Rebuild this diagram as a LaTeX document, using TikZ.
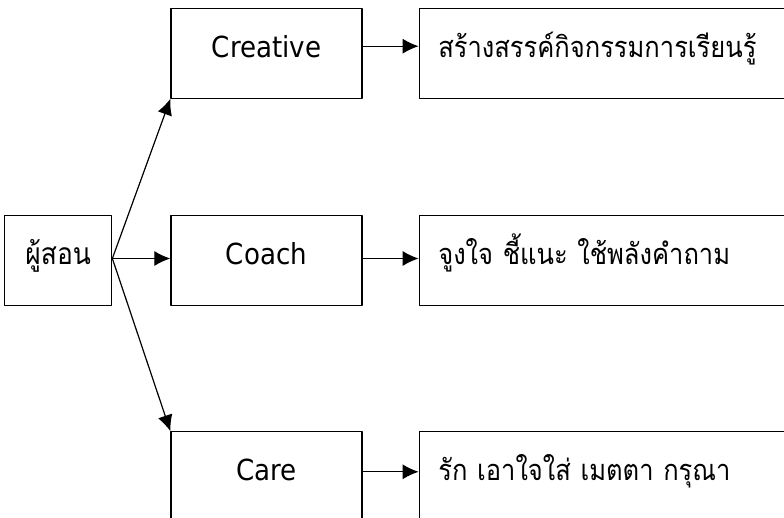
\documentclass[tikz,border=0pt]{standalone}
\usepackage{fontspec}
\setmainfont{DejaVu Sans Condensed}
\newfontfamily\thaifont[Script=Thai,FakeStretch=0.88]{Loma}
\usetikzlibrary{positioning,arrows.meta}

\begin{document}
\begin{tikzpicture}[x=1pt,y=1pt,line join=round,>={Latex[length=16pt,width=15pt]},
  font=\fontsize{29}{33}\selectfont,
  box/.style={draw,line width=1.3pt,inner sep=0pt,text height=20pt,text depth=12pt,minimum height=90pt},
  mid/.style={box,minimum width=191pt},
  note/.style={box,text width=344pt,align=left,inner xsep=19pt,font=\thaifont\fontsize{29}{33}\selectfont},
  link/.style={->,line width=1.2pt}]
 \useasboundingbox (0,0) rectangle (784,517);
 \node[mid] (coach) at (266.5,256.5) {Coach};
 \node[mid,above=116pt of coach] (creative) {Creative};
 \node[mid,below=125pt of coach] (care) {Care};
 \node[box,minimum width=107pt,left=58pt of coach,font=\thaifont\fontsize{30}{34}\selectfont] (teacher) {ผู้สอน};
 \node[note,right=56pt of creative] (createNote) {สร้างสรรค์กิจกรรมการเรียนรู้};
 \node[note,right=56pt of coach] (coachNote) {จูงใจ ชี้แนะ ใช้พลังคำถาม};
 \node[note,right=56pt of care] (careNote) {รัก เอาใจใส่ เมตตา กรุณา};
 \draw[link] ([yshift=2pt]teacher.east) -- (creative.south west);
 \draw[link] ([yshift=2pt]teacher.east) -- ([yshift=2pt]coach.west);
 \draw[link] ([yshift=2pt]teacher.east) -- (care.north west);
 \draw[link] ([yshift=7pt]creative.east) -- ([yshift=7pt]createNote.west);
 \draw[link] ([yshift=2pt]coach.east) -- ([yshift=2pt]coachNote.west);
 \draw[link] ([yshift=5pt]care.east) -- ([yshift=5pt]careNote.west);
\end{tikzpicture}
\end{document}
